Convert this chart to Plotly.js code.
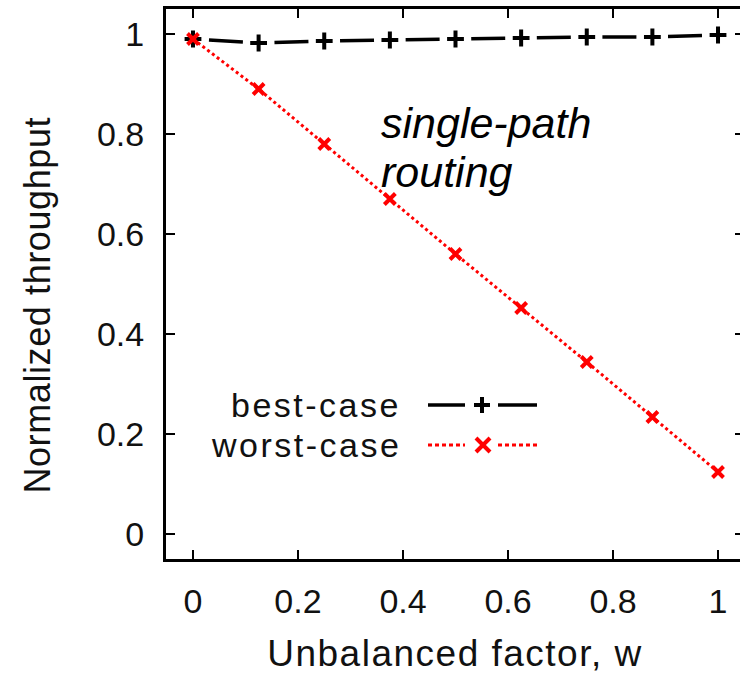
<!DOCTYPE html>
<html>
<head>
<meta charset="utf-8">
<script src="https://cdn.plot.ly/plotly-3.0.1.min.js"></script>
<style>
  html, body { margin: 0; padding: 0; overflow: hidden; background: #fff; }
  #chart { width: 750px; height: 680px; }
</style>
</head>
<body>
<div id="chart"></div>
<script>
// ---- data ----
const unbalancedFactor = [0, 0.125, 0.25, 0.375, 0.5, 0.625, 0.75, 0.875, 1];
const bestCase  = [0.99, 0.982, 0.986, 0.988, 0.99, 0.992, 0.994, 0.994, 0.998];
const worstCase = [0.99, 0.89, 0.78, 0.67, 0.56, 0.452, 0.344, 0.234, 0.124];
const xTickVals = [0, 0.2, 0.4, 0.6, 0.8, 1];
const xTickText = ['0', '0.2', '0.4', '0.6', '0.8', '1'];
const yTickVals = [0, 0.2, 0.4, 0.6, 0.8, 1];
const yTickText = ['0', '0.2', '0.4', '0.6', '0.8', '1'];
const seriesNames = ['best-case', 'worst-case'];
const noteLines = ['single-path', 'routing'];

const FONT = 'Liberation Sans, Arial, Helvetica, sans-serif';
const sp = (t, px) => '<span style="letter-spacing:' + px + 'px">' + t + '</span>';

const traces = [
  {
    x: unbalancedFactor, y: bestCase, name: seriesNames[0],
    type: 'scatter', mode: 'lines+markers', cliponaxis: false,
    line: { color: '#000', width: 3.5, dash: '0px,16px,34px,15.6px' },
    marker: { symbol: 'cross-thin', size: 12, line: { color: '#000', width: 4 } }
  },
  {
    x: unbalancedFactor, y: worstCase, name: seriesNames[1],
    type: 'scatter', mode: 'lines+markers', cliponaxis: false,
    line: { color: '#ff0000', width: 3, dash: 'dot' },
    marker: { symbol: 'x-thin', size: 11, line: { color: '#ff0000', width: 4 } }
  }
];

// legend drawn gnuplot-style (text then sample) in paper coordinates
const px2x = p => (p - 166) / 578;
const px2y = p => (559 - p) / 550;
const legRows = [405, 445];
const legShapes = [];
// best-case sample
legShapes.push({ type: 'line', xref: 'paper', yref: 'paper', x0: px2x(428), x1: px2x(465), y0: px2y(legRows[0]), y1: px2y(legRows[0]), line: { color: '#000', width: 3.5 } });
legShapes.push({ type: 'line', xref: 'paper', yref: 'paper', x0: px2x(498), x1: px2x(537), y0: px2y(legRows[0]), y1: px2y(legRows[0]), line: { color: '#000', width: 3.5 } });
legShapes.push({ type: 'line', xref: 'paper', yref: 'paper', x0: px2x(474), x1: px2x(490), y0: px2y(legRows[0]), y1: px2y(legRows[0]), line: { color: '#000', width: 4 } });
legShapes.push({ type: 'line', xref: 'paper', yref: 'paper', x0: px2x(482), x1: px2x(482), y0: px2y(legRows[0] - 8), y1: px2y(legRows[0] + 8), line: { color: '#000', width: 4 } });
// worst-case sample
legShapes.push({ type: 'line', xref: 'paper', yref: 'paper', x0: px2x(428), x1: px2x(465), y0: px2y(legRows[1]), y1: px2y(legRows[1]), line: { color: '#ff0000', width: 3, dash: '4px,3px' } });
legShapes.push({ type: 'line', xref: 'paper', yref: 'paper', x0: px2x(498), x1: px2x(537), y0: px2y(legRows[1]), y1: px2y(legRows[1]), line: { color: '#ff0000', width: 3, dash: '4px,3px' } });
legShapes.push({ type: 'line', xref: 'paper', yref: 'paper', x0: px2x(476), x1: px2x(490), y0: px2y(legRows[1] - 7), y1: px2y(legRows[1] + 7), line: { color: '#ff0000', width: 4 } });
legShapes.push({ type: 'line', xref: 'paper', yref: 'paper', x0: px2x(476), x1: px2x(490), y0: px2y(legRows[1] + 7), y1: px2y(legRows[1] - 7), line: { color: '#ff0000', width: 4 } });

const annotations = [
  { xref: 'paper', yref: 'paper', x: px2x(403), y: px2y(legRows[0]), xanchor: 'right', yanchor: 'middle',
    text: sp(seriesNames[0], 2.5), showarrow: false, font: { family: FONT, size: 34, color: '#111' } },
  { xref: 'paper', yref: 'paper', x: px2x(403), y: px2y(legRows[1]), xanchor: 'right', yanchor: 'middle',
    text: sp(seriesNames[1], 2.5), showarrow: false, font: { family: FONT, size: 34, color: '#111' } },
  { xref: 'paper', yref: 'paper', x: px2x(379), y: px2y(123), xanchor: 'left', yanchor: 'middle', align: 'left',
    text: '<i>' + noteLines[0] + '</i>', showarrow: false, font: { family: FONT, size: 43, color: '#000' } },
  { xref: 'paper', yref: 'paper', x: px2x(379), y: px2y(172), xanchor: 'left', yanchor: 'middle', align: 'left',
    text: '<i>' + noteLines[1] + '</i>', showarrow: false, font: { family: FONT, size: 43, color: '#000' } }
];

const axisCommon = {
  showline: true, linecolor: '#000', linewidth: 3, mirror: 'ticks',
  ticks: 'inside', ticklen: 9, tickwidth: 2, tickcolor: '#000',
  showgrid: false, zeroline: false, tickmode: 'array',
  tickfont: { family: FONT, size: 34, color: '#111' }
};

const layout = {
  width: 750, height: 680,
  margin: { l: 166, r: 6, t: 9, b: 121 },
  paper_bgcolor: '#fff', plot_bgcolor: '#fff',
  showlegend: false,
  xaxis: Object.assign({}, axisCommon, {
    range: [-0.0514, 1.0495], tickvals: xTickVals, ticktext: xTickText, ticklabelstandoff: 10,
    title: { text: sp('Unbalanced factor, w', 1.5), font: { family: FONT, size: 37, color: '#111' }, standoff: 22 }
  }),
  yaxis: Object.assign({}, axisCommon, {
    range: [-0.05, 1.05], tickvals: yTickVals, ticktext: yTickText, ticklabelstandoff: 12,
    title: { text: sp('Normalized throughput&nbsp;&nbsp;&nbsp;&nbsp;', 0.6), font: { family: FONT, size: 36, color: '#111' }, standoff: 36 }
  }),
  shapes: legShapes,
  annotations: annotations
};

Plotly.newPlot('chart', traces, layout, { displayModeBar: false, staticPlot: true });
</script>
</body>
</html>
